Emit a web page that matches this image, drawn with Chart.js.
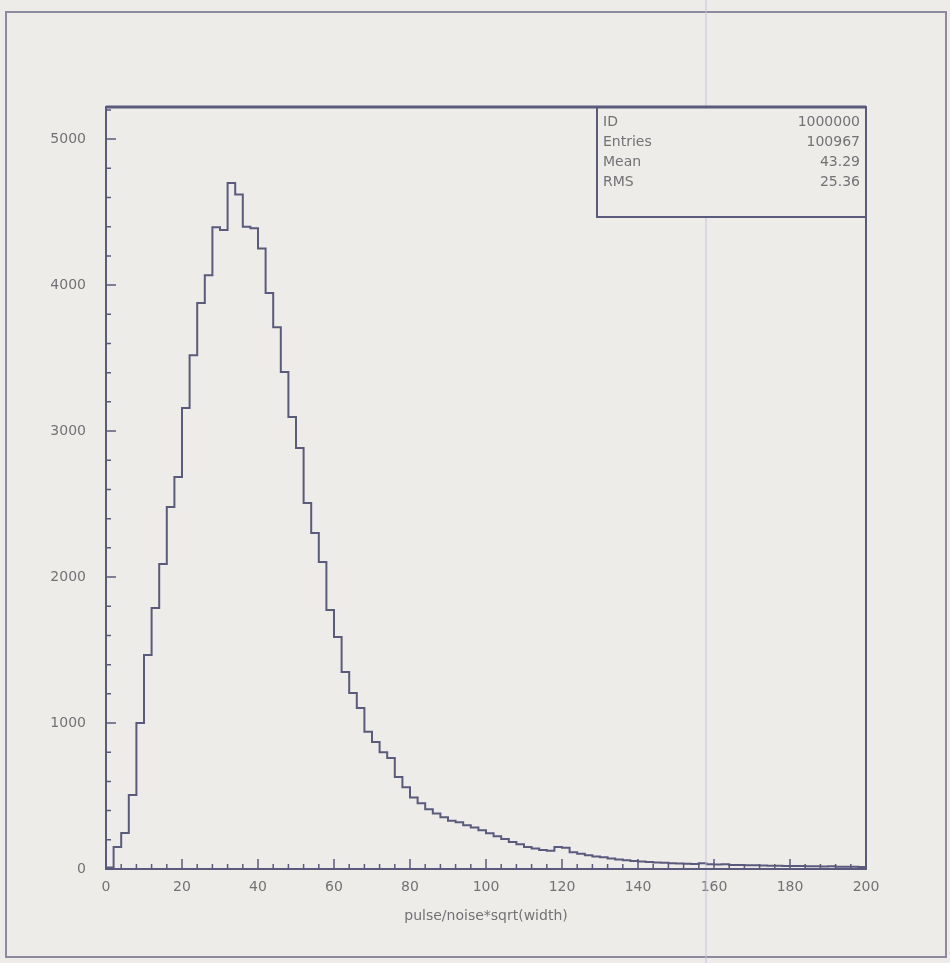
<!DOCTYPE html>
<html>
<head>
<meta charset="utf-8">
<script src="https://cdn.jsdelivr.net/npm/chart.js@4.4.1/dist/chart.umd.min.js"></script>
<style>
  html, body { margin: 0; padding: 0; background: #eeece8; }
  #wrap { position: relative; width: 950px; height: 963px; }
  canvas { display: block; }
</style>
</head>
<body>
<div id="wrap"><canvas id="hist" width="950" height="963"></canvas></div>
<script>
// 1D histogram: 100 equal bins spanning the x range
const xRange = [0, 200];
const counts = [
  10, 150, 247, 507, 1000, 1466, 1788, 2090, 2480, 2685,
  3158, 3520, 3877, 4068, 4397, 4377, 4700, 4620, 4400, 4390,
  4250, 3945, 3712, 3404, 3096, 2884, 2507, 2301, 2103, 1774,
  1589, 1350, 1205, 1103, 940, 870, 800, 760, 630, 560,
  490, 450, 410, 380, 355, 330, 320, 300, 285, 265,
  245, 225, 205, 185, 170, 150, 140, 130, 125, 150,
  145, 115, 105, 95, 85, 80, 72, 65, 60, 55,
  52, 48, 45, 42, 40, 38, 36, 35, 40, 33,
  30, 32, 28, 27, 26, 25, 24, 22, 23, 21,
  20, 20, 19, 18, 17, 18, 16, 15, 16, 14
];
const xTicks = [0, 20, 40, 60, 80, 100, 120, 140, 160, 180, 200];
const yTicks = [0, 1000, 2000, 3000, 4000, 5000];
const yMax = 5220;
const xMinorStep = 4;
const yMinorStep = 200;
const xTitle = 'pulse/noise*sqrt(width)';
const statLabels = ['ID', 'Entries', 'Mean', 'RMS'];
const statValues = ['1000000', '100967', '43.29', '25.36'];

// Step outline: each bin contributes its low edge, the last bin closes at the upper limit
const binWidth = (xRange[1] - xRange[0]) / counts.length;
const stepPoints = [{ x: xRange[0], y: 0 }];
counts.forEach((c, i) => stepPoints.push({ x: xRange[0] + i * binWidth, y: c }));
stepPoints.push({ x: xRange[1], y: counts[counts.length - 1] });
stepPoints.push({ x: xRange[1], y: 0 });

const INK = '#5a5a7c';
const TEXT = '#727276';
const FONT = 'DejaVu Sans';

function fixedTicks(values) {
  return scale => { scale.ticks = values.map(v => ({ value: v })); };
}

// Frame, inward tick marks and statistics box, drawn on top of the scales
const decorations = {
  id: 'decorations',
  afterDraw(chart) {
    const { ctx, chartArea: a, scales: { x, y } } = chart;
    ctx.save();

    // page border
    ctx.strokeStyle = '#8c8aa0';
    ctx.lineWidth = 2;
    ctx.strokeRect(6, 12, 940, 945);
    // faint vertical streak
    ctx.strokeStyle = 'rgba(200,190,225,0.5)';
    ctx.lineWidth = 2;
    ctx.beginPath(); ctx.moveTo(706, 0); ctx.lineTo(706, 963); ctx.stroke();

    // plot frame
    ctx.strokeStyle = INK;
    ctx.lineWidth = 2;
    ctx.strokeRect(a.left, a.top, a.right - a.left, a.bottom - a.top);
    ctx.lineWidth = 3;
    ctx.beginPath(); ctx.moveTo(a.left, a.top); ctx.lineTo(a.right, a.top); ctx.stroke();

    // inward ticks on x
    ctx.lineWidth = 1.5;
    ctx.beginPath();
    for (let v = xRange[0]; v <= xRange[1] + 1e-9; v += xMinorStep) {
      const px = x.getPixelForValue(v);
      const len = xTicks.includes(v) ? 10 : 5;
      ctx.moveTo(px, a.bottom); ctx.lineTo(px, a.bottom - len);
    }
    // inward ticks on y
    for (let v = 0; v <= yMax; v += yMinorStep) {
      const py = y.getPixelForValue(v);
      const len = yTicks.includes(v) ? 10 : 5;
      ctx.moveTo(a.left, py); ctx.lineTo(a.left + len, py);
    }
    ctx.stroke();

    // statistics box
    const bx = 597, by = a.top, bw = a.right - 597, bh = 110;
    ctx.fillStyle = '#eeece8';
    ctx.fillRect(bx, by + 2, bw - 1, bh - 2);
    ctx.strokeStyle = INK;
    ctx.lineWidth = 2;
    ctx.strokeRect(bx, by, bw, bh);
    ctx.fillStyle = TEXT;
    ctx.font = '14px "' + FONT + '"';
    ctx.textBaseline = 'middle';
    statLabels.forEach((lab, i) => {
      const ry = by + 15 + i * 20;
      ctx.textAlign = 'left';
      ctx.fillText(lab, bx + 6, ry);
      ctx.textAlign = 'right';
      ctx.fillText(statValues[i], a.right - 6, ry);
    });
    ctx.restore();
  }
};

new Chart(document.getElementById('hist'), {
  type: 'line',
  data: {
    datasets: [{
      data: stepPoints,
      stepped: 'before',
      borderColor: INK,
      borderWidth: 2,
      pointRadius: 0,
      fill: false
    }]
  },
  options: {
    responsive: false,
    animation: false,
    layout: { padding: { left: 0, top: 107, right: 84, bottom: 0 } },
    plugins: { legend: { display: false }, tooltip: { enabled: false } },
    scales: {
      x: {
        type: 'linear',
        min: xRange[0], max: xRange[1],
        afterBuildTicks: fixedTicks(xTicks),
        afterFit: s => { s.height = 94; },
        grid: { display: false, drawTicks: false },
        border: { display: false },
        ticks: { color: TEXT, font: { family: FONT, size: 14 }, padding: 10, maxRotation: 0, autoSkip: false,
                 callback: v => String(v) },
        title: { display: true, text: xTitle, color: TEXT, font: { family: FONT, size: 14 }, padding: { top: 0, bottom: 38 } }
      },
      y: {
        type: 'linear',
        min: 0, max: yMax,
        afterBuildTicks: fixedTicks(yTicks),
        afterFit: s => { s.width = 106; },
        grid: { display: false, drawTicks: false },
        border: { display: false },
        ticks: { color: TEXT, font: { family: FONT, size: 14 }, padding: 20, autoSkip: false,
                 callback: v => String(v) }
      }
    }
  },
  plugins: [decorations]
});
</script>
</body>
</html>
